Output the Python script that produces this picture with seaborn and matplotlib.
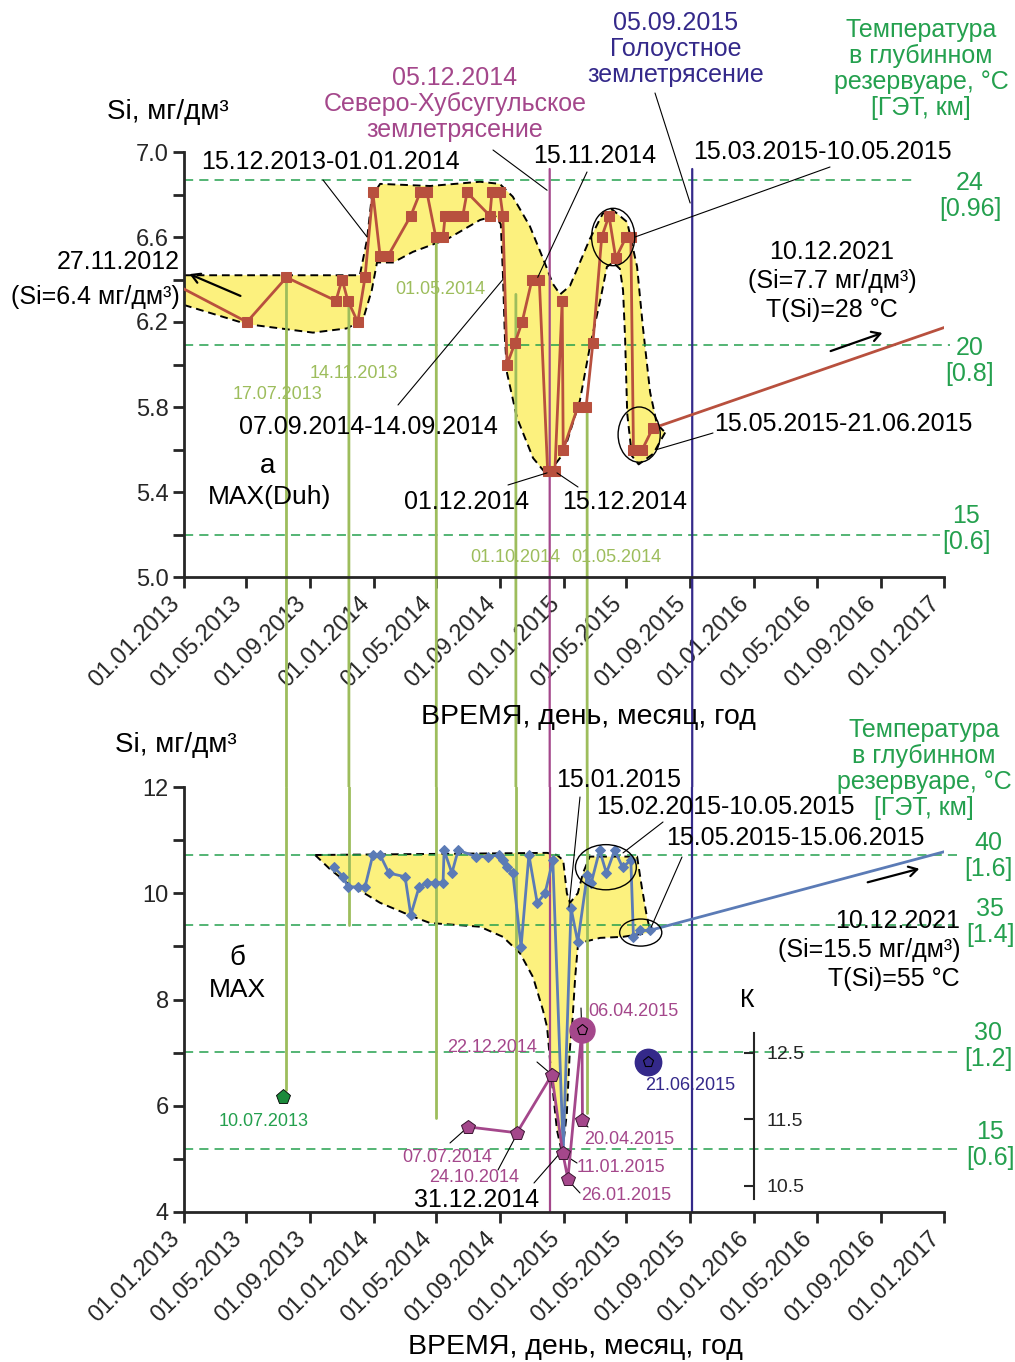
import datetime as dt

import matplotlib
matplotlib.use('Agg')
import matplotlib.pyplot as plt
import matplotlib.dates as mdates
import matplotlib.ticker as mticker
from matplotlib.patches import ConnectionPatch, Ellipse, FancyArrowPatch
import pandas as pd
import seaborn as sns

W, H = 1015, 1362

# ---------------- panel a: Si, MAX(Duh)
a_dates = ['27.11.2012', '02.05.2013', '17.07.2013', '20.10.2013', '01.11.2013', '12.11.2013',
           '01.12.2013', '15.12.2013', '30.12.2013', '13.01.2014', '28.01.2014', '13.03.2014',
           '31.03.2014', '13.04.2014', '30.04.2014', '14.05.2014', '18.05.2014', '02.06.2014',
           '21.06.2014', '29.06.2014', '12.08.2014', '16.08.2014', '31.08.2014', '06.09.2014',
           '14.09.2014', '29.09.2014', '13.10.2014', '01.11.2014', '15.11.2014', '01.12.2014',
           '15.12.2014', '29.12.2014', '31.12.2014', '28.01.2015', '13.02.2015', '26.02.2015',
           '15.03.2015', '29.03.2015', '11.04.2015', '01.05.2015', '10.05.2015', '15.05.2015',
           '01.06.2015', '21.06.2015']
a_si = [6.40, 6.20, 6.41, 6.30, 6.40, 6.30, 6.20, 6.41, 6.81, 6.51, 6.51, 6.70,
        6.81, 6.81, 6.60, 6.60, 6.70, 6.70, 6.70, 6.81, 6.70, 6.81, 6.81, 6.70,
        6.00, 6.10, 6.20, 6.40, 6.40, 5.50, 5.50, 6.30, 5.60, 5.80, 5.80, 6.10,
        6.60, 6.70, 6.50, 6.60, 6.60, 5.60, 5.60, 5.70]
a_trend_dates = ['21.06.2015', '10.12.2021']
a_trend_si = [5.70, 7.70]

a_up_dates = ['01.01.2013', '12.08.2013', '05.12.2013', '19.12.2013', '28.12.2013', '13.01.2014',
              '19.04.2014', '24.07.2014', '31.08.2014', '25.09.2014', '28.10.2014', '22.11.2014',
              '30.11.2014', '11.12.2014', '25.12.2014', '13.01.2015', '01.02.2015', '20.02.2015',
              '17.03.2015', '04.04.2015', '03.05.2015', '22.05.2015', '02.06.2015', '16.06.2015',
              '29.06.2015', '15.07.2015']
a_up_si = [6.42, 6.42, 6.42, 6.59, 6.79, 6.85, 6.84, 6.86, 6.85, 6.79, 6.65, 6.50,
           6.45, 6.38, 6.33, 6.37, 6.48, 6.59, 6.71, 6.73, 6.67, 6.46, 6.18, 5.87,
           5.72, 5.68]
a_low_dates = ['01.01.2013', '02.05.2013', '06.09.2013', '10.11.2013', '11.12.2013', '28.12.2013',
               '07.01.2014', '07.02.2014', '17.03.2014', '22.05.2014', '24.07.2014', '22.08.2014',
               '02.09.2014', '06.09.2014', '10.09.2014', '14.09.2014', '03.10.2014', '03.11.2014',
               '30.11.2014', '31.12.2014', '01.02.2015', '20.02.2015', '12.03.2015', '25.03.2015',
               '06.04.2015', '19.04.2015', '25.04.2015', '29.04.2015', '03.05.2015', '12.05.2015',
               '25.05.2015', '22.06.2015', '15.07.2015']
a_low_si = [6.28, 6.19, 6.15, 6.17, 6.21, 6.35, 6.48, 6.48, 6.53, 6.59, 6.68, 6.70,
            6.66, 6.43, 6.12, 5.96, 5.75, 5.56, 5.48, 5.58, 5.83, 6.08, 6.30, 6.46,
            6.48, 6.45, 6.35, 6.12, 5.77, 5.57, 5.53, 5.58, 5.68]

# ---------------- panel b: Si, MAX
b_dates = ['16.10.2013', '03.11.2013', '12.11.2013', '01.12.2013', '15.12.2013', '30.12.2013',
           '13.01.2014', '30.01.2014', '02.03.2014', '13.03.2014', '29.03.2014', '13.04.2014',
           '29.04.2014', '14.05.2014', '16.05.2014', '31.05.2014', '12.06.2014', '16.07.2014',
           '08.08.2014', '30.08.2014', '06.09.2014', '14.09.2014', '25.09.2014', '11.10.2014',
           '26.10.2014', '11.11.2014', '26.11.2014', '11.12.2014', '31.12.2014', '15.01.2015',
           '28.01.2015', '15.02.2015', '23.02.2015', '11.03.2015', '24.03.2015', '09.04.2015',
           '24.04.2015', '10.05.2015', '15.05.2015', '28.05.2015', '15.06.2015']
b_si = [10.49, 10.31, 10.12, 10.12, 10.12, 10.72, 10.72, 10.38, 10.31, 9.59, 10.12, 10.20,
        10.20, 10.20, 10.81, 10.38, 10.81, 10.69, 10.69, 10.72, 10.62, 10.49, 10.38, 8.99,
        10.72, 9.82, 10.00, 10.62, 5.15, 9.72, 9.08, 10.34, 10.20, 10.81, 10.38, 10.81,
        10.49, 10.62, 9.18, 9.30, 9.30]
b_trend_dates = ['15.06.2015', '10.12.2021']
b_trend_si = [9.30, 15.50]

b_up_dates = ['10.09.2013', '30.11.2014', '19.12.2014', '31.12.2014', '07.01.2015', '13.01.2015',
              '28.01.2015', '07.02.2015', '20.02.2015', '22.05.2015', '31.05.2015', '10.06.2015',
              '16.06.2015']
b_up_si = [10.72, 10.76, 10.72, 10.62, 10.00, 9.82, 10.00, 10.38, 10.69, 10.69, 10.12, 9.55, 9.30]
b_low_dates = ['10.09.2013', '09.10.2013', '10.11.2013', '13.01.2014', '17.03.2014', '19.04.2014',
               '24.07.2014', '06.09.2014', '09.10.2014', '03.11.2014', '22.11.2014', '30.11.2014',
               '09.12.2014', '19.12.2014', '29.12.2014', '07.01.2015', '13.01.2015', '17.01.2015',
               '23.01.2015', '28.01.2015', '07.02.2015', '12.03.2015', '25.04.2015', '10.06.2015',
               '16.06.2015']
b_low_si = [10.72, 10.45, 10.20, 9.82, 9.56, 9.44, 9.37, 9.18, 8.87, 8.42, 7.80, 7.48,
            6.48, 5.54, 5.10, 5.86, 7.10, 7.48, 8.42, 8.99, 9.08, 9.16, 9.18, 9.25, 9.30]

# coefficient K (inner scale of panel b)
k_dates = ['30.06.2014', '03.10.2014', '09.12.2014', '30.12.2014', '09.01.2015', '05.02.2015', '06.02.2015']
k_values = [11.39, 11.30, 12.17, 11.00, 10.61, 12.85, 11.49]
k_labels = ['07.07.2014', '24.10.2014', '22.12.2014', '11.01.2015', '26.01.2015', '06.04.2015', '20.04.2015']
k_golo_date, k_golo_value = '12.06.2015', 12.36
green_point_date, green_point_si = '10.07.2013', 6.16

# temperature levels (dashed lines) and their labels
a_levels = [6.87, 6.09, 5.20]
a_level_labels = ['24\n[0.96]', '20\n[0.8]', '15\n[0.6]']
b_levels = [10.72, 9.40, 7.01, 5.19]
b_level_labels = ['40\n[1.6]', '35\n[1.4]', '30\n[1.2]', '15\n[0.6]']

# sampling dates: vertical lines crossing both panels (date, Si in a, Si in b)
sample_dates = ['17.07.2013', '14.11.2013', '01.05.2014', '01.10.2014', '15.02.2015']
sample_top = [6.41, 6.31, 6.60, 6.33, 5.80]
sample_bottom = [6.30, 9.40, 5.77, 5.49, 5.86]
quake_dates = ['05.12.2014', '05.09.2015']

RED = '#b8503e'
BLUE = '#5b7bb6'
YELLOW = '#fcf17e'
MAGENTA = '#a4478b'
NAVY = '#34298a'
LGREEN = '#9dbd5c'
DGREEN = '#24a04e'
FS = 18
FS_S = 13


def num(s):
    return mdates.date2num(dt.datetime.strptime(s, '%d.%m.%Y'))


def days(s):
    return pd.to_datetime(pd.Series(s), format='%d.%m.%Y')


def P(px, py):
    return (px / W, 1 - py / H)


def text(px, py, s, size=FS, color='black', **kw):
    kw.setdefault('ha', 'center')
    kw.setdefault('va', 'center')
    kw.setdefault('linespacing', 1.12)
    fig.text(*P(px, py), s, fontsize=size, color=color, **kw)


def lead(ax, date, value, px, py):
    ax.annotate('', xy=(num(date), value), xycoords='data', xytext=P(px, py),
                textcoords='figure fraction',
                arrowprops=dict(arrowstyle='-', color='black', lw=0.8, shrinkA=0, shrinkB=0),
                annotation_clip=False)


def arrow(x0, y0, x1, y1):
    fig.add_artist(FancyArrowPatch(P(x0, y0), P(x1, y1), transform=fig.transFigure,
                                   arrowstyle='->,head_length=6,head_width=3.5',
                                   color='black', lw=1.6))


def envelope(ax, up_d, up_v, low_d, low_v):
    ux = [num(d) for d in up_d]
    lx = [num(d) for d in low_d]
    ax.fill(ux + lx[::-1], up_v + low_v[::-1], color=YELLOW, lw=0, zorder=1)
    for xs, ys in ((ux, up_v), (lx, low_v)):
        ax.plot(xs, ys, color='black', lw=1.4, ls=(0, (4, 2.5)), zorder=1.2)


def levels(ax, values, x_end):
    for v, xe in zip(values, x_end):
        ax.plot([0, xe], [v, v], transform=ax.get_yaxis_transform(), clip_on=False,
                color=DGREEN, lw=1.1, ls=(0, (6, 4)), zorder=1.3)


sns.set_style('ticks')
plt.rcParams['font.family'] = ['Liberation Sans', 'DejaVu Sans']

fig = plt.figure(figsize=(W / 100, H / 100), dpi=100)
ax1 = fig.add_axes([184 / W, 1 - 577 / H, 760 / W, 425 / H])
ax2 = fig.add_axes([184 / W, 1 - 1212 / H, 760 / W, 425 / H])

envelope(ax1, a_up_dates, a_up_si, a_low_dates, a_low_si)
envelope(ax2, b_up_dates, b_up_si, b_low_dates, b_low_si)
levels(ax1, a_levels, [0.964, 1.008, 0.995])
levels(ax2, b_levels, [1.017, 1.015, 1.02, 1.02])

sns.lineplot(x=days(a_dates), y=a_si, sort=False, ax=ax1, color=RED, lw=2, marker='s',
             markersize=7, markeredgecolor=RED, zorder=3)
ax1.plot([num(d) for d in a_trend_dates], a_trend_si, color=RED, lw=2, zorder=3)
sns.lineplot(x=days(b_dates), y=b_si, sort=False, ax=ax2, color=BLUE, lw=2, marker='D',
             markersize=5, markeredgecolor=BLUE, zorder=3)
ax2.plot([num(d) for d in b_trend_dates], b_trend_si, color=BLUE, lw=2, zorder=3)
ax2.plot(num(green_point_date), green_point_si, marker='p', ms=11, color='#1b8a3b',
         mec='black', mew=0.6, zorder=4)

for ax, ylim in ((ax1, (5.0, 7.0)), (ax2, (4, 12))):
    ax.set_xlim(num('01.01.2013'), num('01.01.2017'))
    ax.set_ylim(*ylim)
    ax.xaxis.set_major_locator(mdates.MonthLocator(bymonth=[1, 5, 9]))
    ax.xaxis.set_major_formatter(mdates.DateFormatter('%d.%m.%Y'))
    ax.tick_params(axis='both', which='both', direction='out', length=8, width=2,
                   labelsize=17, pad=3)
    for lab in ax.get_xticklabels():
        lab.set_rotation(45)
        lab.set_ha('right')
        lab.set_va('top')
    for side in ('top', 'right'):
        ax.spines[side].set_visible(False)
    for side in ('left', 'bottom'):
        ax.spines[side].set_linewidth(2)
    ax.set_xlabel('')
    ax.set_ylabel('')
ax1.yaxis.set_major_locator(mticker.FixedLocator([5.0, 5.4, 5.8, 6.2, 6.6, 7.0]))
ax1.yaxis.set_minor_locator(mticker.FixedLocator([5.2, 5.6, 6.0, 6.4, 6.8]))
ax1.yaxis.set_major_formatter(mticker.FormatStrFormatter('%.1f'))
ax2.yaxis.set_major_locator(mticker.MultipleLocator(2))
ax2.yaxis.set_minor_locator(mticker.MultipleLocator(1))

# lines crossing both panels
for d, yt, yb in zip(sample_dates, sample_top, sample_bottom):
    x = num(d)
    con = ConnectionPatch(xyA=(x, yt), coordsA=ax1.transData, xyB=(x, 12), coordsB=ax2.transData,
                          color=LGREEN, lw=2, zorder=1.5, clip_on=False)
    ax1.add_artist(con)
    ax2.plot([x, x], [12, yb], color=LGREEN, lw=2, zorder=1.5)
for d, c in zip(quake_dates, (MAGENTA, NAVY)):
    x = num(d)
    con = ConnectionPatch(xyA=(x, 6.92), coordsA=ax1.transData, xyB=(x, 12), coordsB=ax2.transData,
                          color=c, lw=1.6, zorder=1.5, clip_on=False)
    ax1.add_artist(con)
    ax2.plot([x, x], [12, 4], color=c, lw=1.6, zorder=1.5)

# ellipses
for ax, d, v, w, h in ((ax1, '06.04.2015', 6.60, 83, 0.27), (ax1, '26.05.2015', 5.67, 81, 0.26),
                       (ax2, '23.03.2015', 10.49, 117, 0.85), (ax2, '29.05.2015', 9.26, 81, 0.51)):
    ax.add_patch(Ellipse((num(d), v), w, h, fill=False, ec='black', lw=1, zorder=4))

# inner K scale
axk = ax2.twinx()
axk.set_ylim(10.109, 16.5)
axk.patch.set_visible(False)
for side in ('top', 'left', 'bottom'):
    axk.spines[side].set_visible(False)
axk.spines['right'].set_position(('data', num('01.01.2016')))
axk.spines['right'].set_bounds(10.3, 12.8)
axk.spines['right'].set_linewidth(1.5)
axk.set_yticks([10.5, 11.5, 12.5])
axk.set_yticklabels(['10.5', '11.5', '12.5'])
axk.tick_params(axis='y', direction='in', length=7, width=1.5, labelsize=FS_S + 1, pad=9)
axk.plot([num(d) for d in k_dates], k_values, color=MAGENTA, lw=2, zorder=3)
axk.plot(num(k_dates[5]), k_values[5], marker='o', ms=18, color=MAGENTA, mec=MAGENTA, zorder=4)
axk.plot(num(k_golo_date), k_golo_value, marker='o', ms=19, color=NAVY, mec=NAVY, zorder=4)
axk.plot([num(d) for d in k_dates[:5] + k_dates[6:]], k_values[:5] + k_values[6:], ls='none',
         marker='p', ms=10, color=MAGENTA, mec='#3a1530', mew=0.7, zorder=5)
axk.plot([num(k_dates[5]), num(k_golo_date)], [k_values[5], k_golo_value], ls='none', marker='p',
         ms=8, mfc='none', mec='black', mew=0.8, zorder=5)

# ---------------- texts, panel a
text(107, 112, 'Si, мг/дм³', size=20, ha='left')
text(455, 104, '05.12.2014\nСеверо-Хубсугульское\nземлетрясение', color=MAGENTA)
text(676, 49, '05.09.2015\nГолоустное\nземлетрясение', color=NAVY)
text(921, 69, 'Температура\nв глубинном\nрезервуаре, °C\n[ГЭТ, км]', color=DGREEN)
for v, lab, px in zip([196, 361, 529], a_level_labels, [970, 970, 966]):
    text(px, v, lab, color=DGREEN)
text(330, 162, '15.12.2013-01.01.2014')
text(595, 156, '15.11.2014')
text(822, 152, '15.03.2015-10.05.2015')
text(180, 262, '27.11.2012', ha='right')
text(180, 297, '(Si=6.4 мг/дм³)', ha='right')
text(832, 281, '10.12.2021\n(Si=7.7 мг/дм³)\nT(Si)=28 °C', linespacing=1.25)
text(368, 427, '07.09.2014-14.09.2014')
text(843, 424, '15.05.2015-21.06.2015')
text(268, 466, 'а', size=20)
text(270, 497, 'MAX(Duh)', size=19)
text(467, 502, '01.12.2014')
text(625, 502, '15.12.2014')
for px, py, s in ((277, 395, '17.07.2013'), (354, 374, '14.11.2013'), (440, 290, '01.05.2014'),
                  (515, 557, '01.10.2014'), (616, 557, '01.05.2014')):
    text(px, py, s, size=FS_S, color=LGREEN)
text(588, 717, 'ВРЕМЯ, день, месяц, год', size=20.5)

lead(ax1, '19.12.2013', 6.60, 323, 180)
lead(ax1, '12.11.2014', 6.41, 587, 172)
lead(ax1, '18.05.2015', 6.60, 830, 167)
lead(ax1, '30.11.2014', 6.82, 493, 150)
lead(ax1, '01.09.2015', 6.76, 655, 93)
lead(ax1, '06.09.2014', 6.40, 398, 405)
lead(ax1, '29.06.2015', 5.60, 713, 433)
lead(ax1, '30.11.2014', 5.49, 508, 485)
lead(ax1, '19.12.2014', 5.49, 578, 487)
arrow(243, 297, 187, 273)
arrow(828, 352, 885, 332)

# ---------------- texts, panel b
text(115, 745, 'Si, мг/дм³', size=20, ha='left')
text(924, 769, 'Температура\nв глубинном\nрезервуаре, °C\n[ГЭТ, км]', color=DGREEN)
for v, lab, px in zip([856, 922, 1046, 1145], b_level_labels, [988, 990, 988, 990]):
    text(px, v, lab, color=DGREEN)
text(619, 780, '15.01.2015')
text(725, 807, '15.02.2015-10.05.2015')
text(795, 838, '15.05.2015-15.06.2015')
text(960, 950, '10.12.2021\n(Si=15.5 мг/дм³)\nT(Si)=55 °C', ha='right', linespacing=1.25)
text(237, 958, 'б', size=20)
text(237, 990, 'MAX', size=19)
text(747, 1000, 'К')
for px, py, s in ((447, 1157, k_labels[0]), (474, 1178, k_labels[1]), (492, 1048, k_labels[2]),
                  (621, 1167, k_labels[3]), (626, 1195, k_labels[4]), (633, 1012, k_labels[5]),
                  (629, 1139, k_labels[6])):
    text(px, py, s, size=FS_S, color=MAGENTA)
text(690, 1086, '21.06.2015', size=FS_S, color=NAVY)
text(264, 1121, '10.07.2013', size=FS_S, color=DGREEN)
text(477, 1200, '31.12.2014')
text(575, 1347, 'ВРЕМЯ, день, месяц, год', size=20.5)

lead(ax2, '11.01.2015', 9.74, 580, 797)
lead(ax2, '25.04.2015', 10.76, 663, 822)
lead(ax2, '18.06.2015', 9.36, 682, 857)
lead(ax2, '05.12.2014', 6.62, 537, 1062)
lead(ax2, '24.06.2014', 5.54, 450, 1143)
lead(ax2, '29.09.2014', 5.39, 498, 1170)
lead(ax2, '25.12.2014', 5.11, 534, 1183)
lead(ax2, '03.01.2015', 5.07, 577, 1163)
lead(ax2, '13.01.2015', 4.56, 580, 1193)
lead(ax2, '07.02.2015', 5.69, 588, 1127)
lead(ax2, '04.02.2015', 7.61, 581, 1008)
arrow(865, 883, 922, 868)

fig.savefig('out.png', dpi=100)
